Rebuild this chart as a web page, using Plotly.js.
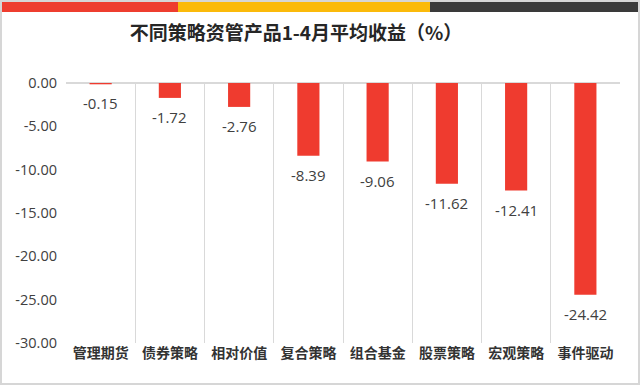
<!DOCTYPE html>
<html>
<head>
<meta charset="utf-8">
<script src="https://cdn.plot.ly/plotly-3.0.1.min.js"></script>
<style>
html,body{margin:0;padding:0;background:#fff;}
#chart{width:640px;height:385px;}
</style>
</head>
<body>
<div id="chart"></div>
<script>
const categories = ["管理期货","债券策略","相对价值","复合策略","组合基金","股票策略","宏观策略","事件驱动"];
const returns = [-0.15,-1.72,-2.76,-8.39,-9.06,-11.62,-12.41,-24.42];
const yTickVals = [0,-5,-10,-15,-20,-25,-30];
const yTickText = ["0.00","-5.00","-10.00","-15.00","-20.00","-25.00","-30.00"];
const titleText = "不同策略资管产品1-4月平均收益（%）";

const L = 66, R = 20, T = 83, B = 42, W = 640, H = 385;
const pw = W - L - R, ph = H - T - B;
const px = x => (x - L) / pw;
const py = y => (H - B - y) / ph;

const font = "'Open Sans', 'Noto Sans CJK SC', sans-serif";
const cjk = "'Noto Sans CJK SC', 'Open Sans', sans-serif";

const trace = {
  type: "bar",
  x: categories,
  y: returns,
  width: 0.32,
  marker: {color: "#EF3B2F"},
  hoverinfo: "x+y"
};

const labels = categories.map((c, i) => ({
  x: c, y: returns[i], xref: "x", yref: "y",
  text: returns[i].toFixed(2),
  showarrow: false,
  yanchor: "top",
  yshift: -7,
  font: {family: font, size: 15, color: "#404040"}
}));

const layout = {
  width: W, height: H,
  margin: {l: L, r: R, t: T, b: B, pad: 0},
  paper_bgcolor: "#fff",
  plot_bgcolor: "#fff",
  showlegend: false,
  title: {
    text: titleText,
    font: {family: cjk, size: 19, color: "#262626", weight: "bold"},
    xref: "paper", x: px(296), xanchor: "center",
    yref: "container", y: 1 - 33/H, yanchor: "middle"
  },
  xaxis: {
    type: "category",
    range: [-0.5, 7.5],
    tickson: "boundaries",
    showgrid: true,
    gridcolor: "#d9d9d9",
    gridwidth: 1,
    ticks: "",
    showline: false,
    zeroline: false,
    tickfont: {family: cjk, size: 14, color: "#333333", weight: "bold"},
    fixedrange: true
  },
  yaxis: {
    range: [-30, 0],
    tickvals: yTickVals,
    ticktext: yTickText,
    showgrid: false,
    zeroline: true,
    zerolinecolor: "#d9d9d9",
    zerolinewidth: 1.5,
    showline: false,
    ticks: "",
    ticklabelstandoff: 8,
    tickfont: {family: font, size: 14.5, color: "#404040"},
    fixedrange: true
  },
  annotations: labels,
  shapes: [
    {type: "rect", xref: "paper", yref: "paper", x0: px(1), x1: px(639), y0: py(1), y1: py(384),
     line: {color: "#d6d6d6", width: 2}, fillcolor: "rgba(0,0,0,0)", layer: "below"},
    {type: "rect", xref: "paper", yref: "paper", x0: px(2), x1: px(178), y0: py(2), y1: py(12),
     line: {width: 0}, fillcolor: "#EE3D2F"},
    {type: "rect", xref: "paper", yref: "paper", x0: px(178), x1: px(430), y0: py(2), y1: py(12),
     line: {width: 0}, fillcolor: "#FBBA0A"},
    {type: "rect", xref: "paper", yref: "paper", x0: px(430), x1: px(638), y0: py(2), y1: py(12),
     line: {width: 0}, fillcolor: "#3a3a3a"}
  ]
};

Plotly.newPlot("chart", [trace], layout, {displayModeBar: false, staticPlot: true});
</script>
</body>
</html>
